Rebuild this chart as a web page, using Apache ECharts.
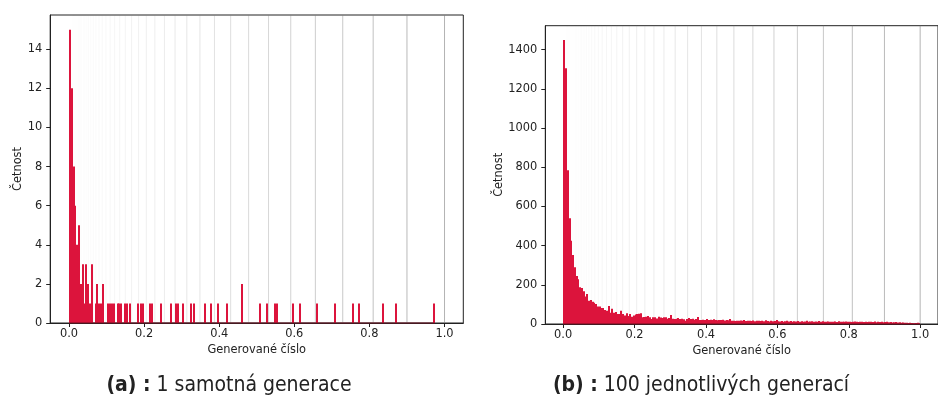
<!DOCTYPE html>
<html><head><meta charset="utf-8">
<script src="https://cdn.jsdelivr.net/npm/echarts@6/dist/echarts.min.js"></script>
<style>html,body{margin:0;padding:0;background:#fff}#c{width:938px;height:408px}</style>
</head><body><div id="c"></div>
<script>
// ---- data ----
const leftBinCount = 200;
const leftRange = [0, 0.974];
const leftBins   = [0,1,2,3,4,5,6,7,8,9,10,11,12,14,15,16,17,18,21,22,23,24,26,27,28,30,31,33,37,39,40,44,45,50,55,58,59,62,66,68,74,77,81,86,94,104,108,112,113,122,126,135,145,155,158,171,178,199];
const leftCounts = [15,12,8,6,4,5,2,3,1,3,2,1,3,1,2,1,1,2,1,1,1,1,1,1,1,1,1,1,1,1,1,1,1,1,1,1,1,1,1,1,1,1,1,1,2,1,1,1,1,1,1,1,1,1,1,1,1,1];

const rightRange = [0, 1.0];
const rightCounts = [
  1450,1305,785,540,425,352,290,245,228,188,
  184,167,140,153,119,123,113,109,102,89,
  89,82,82,72,68,92,58,78,58,61,
  51,51,68,51,44,55,41,51,37,44,
  48,51,52,55,34,36,37,41,34,26,
  34,34,28,37,33,30,35,34,27,31,
  46,27,26,27,31,25,27,24,16,26,
  31,26,27,22,25,36,21,20,22,20,
  26,21,22,20,24,20,19,21,20,22,
  18,20,19,26,17,16,15,17,16,18,
  16,21,15,17,16,15,18,14,16,17,
  15,16,14,19,15,13,16,14,15,20,
  14,13,15,12,14,16,13,15,12,14,
  13,15,12,14,11,13,16,12,13,14,
  12,13,11,15,12,14,12,11,13,12,
  11,12,13,10,14,12,11,12,13,11,
  12,10,11,13,12,10,12,11,10,12,
  10,12,11,10,13,9,11,10,12,9,
  10,11,9,10,8,9,10,8,9,7,
  8,6,7,5,6,5,4,5,6,4
];

const guideLines = [1, 0.9, 0.81, 0.729, 0.6561, 0.5905, 0.5314, 0.4783, 0.4305, 0.3874, 0.3487, 0.3138, 0.2824, 0.2542, 0.2288, 0.2059, 0.1853, 0.1668, 0.1501, 0.1351, 0.1216, 0.1094, 0.0985, 0.0886, 0.0798, 0.0718, 0.0646, 0.0581, 0.0523, 0.0471, 0.0424, 0.0382, 0.0343, 0.0309, 0.0278, 0.0250, 0.0225, 0.0203, 0.0182, 0.0164, 0.0148, 0.0133, 0.0120, 0.0108, 0.0097];

const xTicks = [0, 0.2, 0.4, 0.6, 0.8, 1.0];
const leftYTicks = [0, 2, 4, 6, 8, 10, 12, 14];
const rightYTicks = [0, 200, 400, 600, 800, 1000, 1200, 1400];
const xLabel = 'Generované číslo';
const yLabel = 'Četnost';
const captionTags = ['(a) :', '(b) :'];
const captionTexts = ['1 samotná generace', '100 jednotlivých generací'];

// ---- build bins ----
function binsFromCounts(range, counts) {
  const w = (range[1] - range[0]) / counts.length;
  return counts.map((c, i) => [range[0] + i * w, range[0] + (i + 1) * w, c]);
}
const leftFull = new Array(leftBinCount).fill(0);
leftBins.forEach((b, i) => { leftFull[b] = leftCounts[i]; });
const leftData = binsFromCounts(leftRange, leftFull).filter(d => d[2] > 0);
const rightData = binsFromCounts(rightRange, rightCounts).filter(d => d[2] > 0);

const FONT = 'DejaVu Sans';
const FS = 11.4;
const TXT = '#222';
const BAR = '#DC143C';

function barItem(params, api) {
  const p0 = api.coord([api.value(0), api.value(2)]);
  const p1 = api.coord([api.value(1), 0]);
  const x0 = Math.round(p0[0]), x1 = Math.max(Math.round(p1[0]), x0 + 2);
  return { type: 'rect', shape: { x: x0, y: p0[1], width: x1 - x0, height: p1[1] - p0[1] },
    style: { fill: BAR } };
}
function guideItem(params, api) {
  const v = api.value(0);
  const cs = params.coordSys;
  const x = api.coord([v, 0])[0];
  return { type: 'line', shape: { x1: x, y1: cs.y, x2: x, y2: cs.y + cs.height },
    style: { stroke: 'rgba(128,128,128,' + (0.6 * v).toFixed(3) + ')', lineWidth: 1 } };
}
function baseItem(params, api) {
  const a = api.coord([api.value(0), 0]);
  const b = api.coord([api.value(1), 0]);
  return { type: 'line', shape: { x1: a[0], y1: a[1], x2: b[0], y2: b[1] },
    style: { stroke: '#6a1020', lineWidth: 1.2 } };
}

function xAxisCfg(gi, gap) {
  return { gridIndex: gi, type: 'value', min: -0.05, max: 1.05,
    axisLine: { show: true, onZero: false, lineStyle: { color: TXT, width: 1 } },
    axisTick: { show: true, length: 4, customValues: xTicks, lineStyle: { color: TXT } },
    axisLabel: { customValues: xTicks, formatter: v => v.toFixed(1), margin: 6, color: TXT, fontSize: FS, fontFamily: FONT },
    splitLine: { show: false },
    name: xLabel, nameLocation: 'middle', nameGap: gap,
    nameTextStyle: { color: TXT, fontSize: FS, fontFamily: FONT } };
}
function yAxisCfg(gi, max, ticks, gap) {
  return { gridIndex: gi, type: 'value', min: 0, max: max,
    axisLine: { show: true, onZero: false, lineStyle: { color: TXT, width: 1 } },
    axisTick: { show: true, length: 4, customValues: ticks, lineStyle: { color: TXT } },
    axisLabel: { customValues: ticks, formatter: v => String(v), margin: 8, color: TXT, fontSize: FS, fontFamily: FONT },
    splitLine: { show: false },
    name: yLabel, nameLocation: 'middle', nameGap: gap, nameRotate: 90,
    nameTextStyle: { color: TXT, fontSize: FS, fontFamily: FONT } };
}

const chart = echarts.init(document.getElementById('c'), null, { renderer: 'canvas' });
chart.setOption({
  animation: false,
  grid: [
    { left: 50.2, top: 15, width: 413.1, height: 308, show: true, borderColor: TXT, borderWidth: 1 },
    { left: 545.3, top: 25.7, width: 399.6, height: 298.3, show: true, borderColor: TXT, borderWidth: 1 }
  ],
  xAxis: [xAxisCfg(0, 21), xAxisCfg(1, 21)],
  yAxis: [yAxisCfg(0, 15.75, leftYTicks, 27), yAxisCfg(1, 1522.5, rightYTicks, 41)],
  series: [
    { type: 'custom', xAxisIndex: 0, yAxisIndex: 0, renderItem: guideItem, data: guideLines.map(v => [v, 0]), silent: true, z: 1 },
    { type: 'custom', xAxisIndex: 1, yAxisIndex: 1, renderItem: guideItem, data: guideLines.map(v => [v, 0]), silent: true, z: 1 },
    { type: 'custom', xAxisIndex: 0, yAxisIndex: 0, renderItem: barItem, data: leftData, silent: true, z: 2 },
    { type: 'custom', xAxisIndex: 1, yAxisIndex: 1, renderItem: barItem, data: rightData, silent: true, z: 2 },
    { type: 'custom', xAxisIndex: 0, yAxisIndex: 0, renderItem: baseItem, data: [[leftRange[0], leftRange[1]]], silent: true, z: 3 },
    { type: 'custom', xAxisIndex: 1, yAxisIndex: 1, renderItem: baseItem, data: [[rightRange[0], rightRange[1]]], silent: true, z: 3 }
  ],
  graphic: [
    { type: 'text', x: 229, y: 386, style: { text: '{b|' + captionTags[0] + '} ' + captionTexts[0],
      rich: { b: { fontWeight: 'bold', fontSize: 21, fontFamily: 'DejaVu Sans Condensed', fill: TXT } },
      fontSize: 21, fontFamily: 'DejaVu Sans Condensed', fill: TXT, align: 'center', verticalAlign: 'middle' } },
    { type: 'text', x: 701, y: 386, style: { text: '{b|' + captionTags[1] + '} ' + captionTexts[1],
      rich: { b: { fontWeight: 'bold', fontSize: 21, fontFamily: 'DejaVu Sans Condensed', fill: TXT } },
      fontSize: 21, fontFamily: 'DejaVu Sans Condensed', fill: TXT, align: 'center', verticalAlign: 'middle' } }
  ]
});
</script></body></html>
